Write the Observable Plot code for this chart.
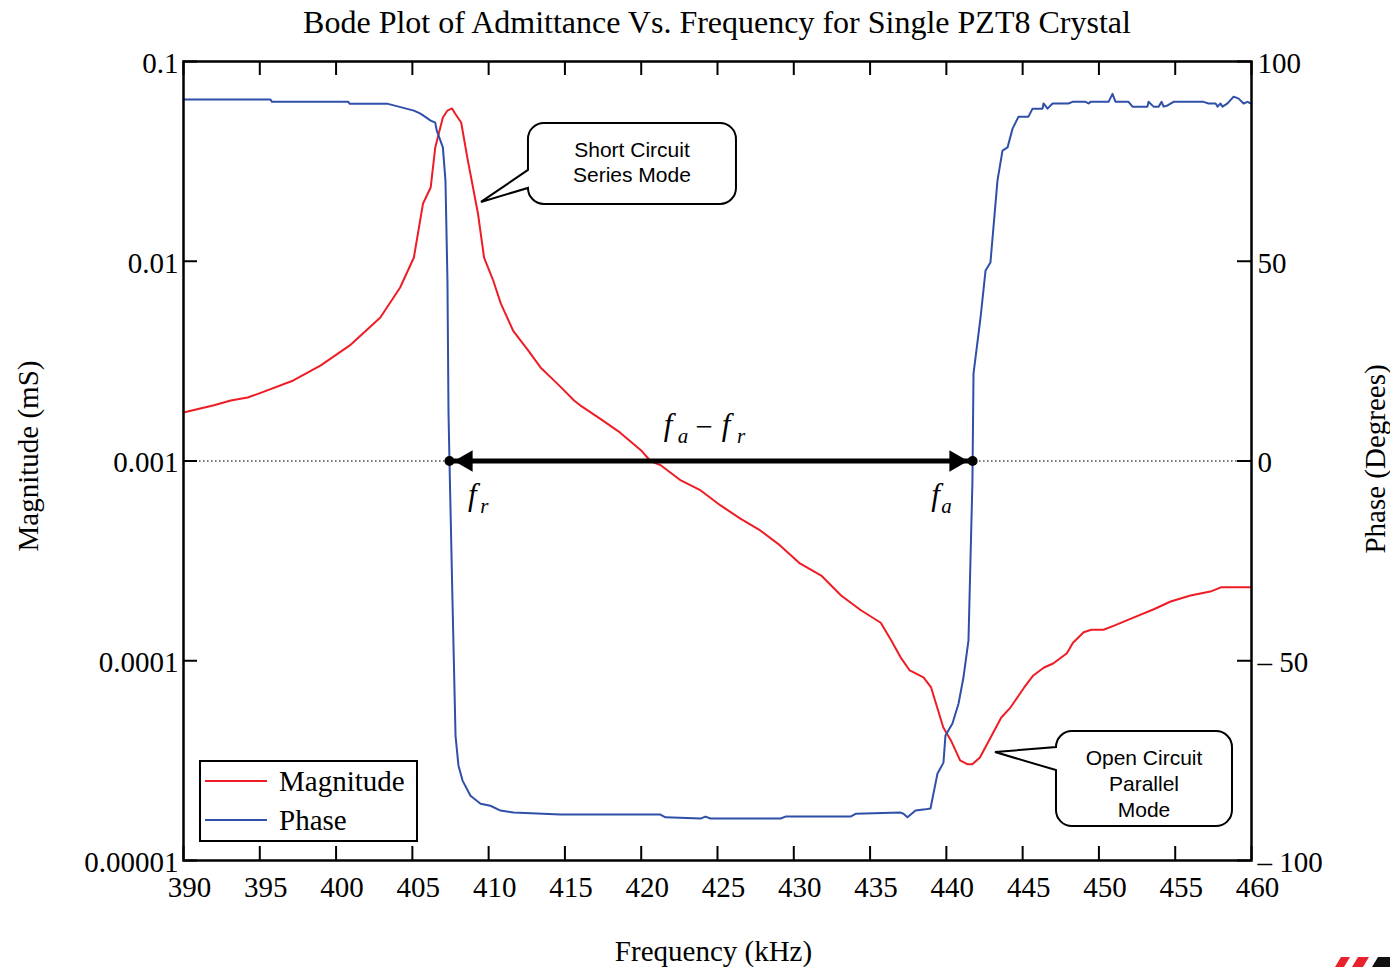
<!DOCTYPE html>
<html>
<head>
<meta charset="utf-8">
<script src="https://cdn.jsdelivr.net/npm/d3@7"></script>
<script src="https://cdn.jsdelivr.net/npm/@observablehq/plot@0.6"></script>
<style>
  html, body { margin: 0; padding: 0; background: #fff; overflow: hidden; }
  #page { position: relative; width: 1390px; height: 967px; }
  #title {
    margin-left: 183px; width: 1068px; height: 44px; line-height: 44px;
    text-align: center; font-family: "Liberation Serif", "Times New Roman", serif;
    font-size: 32px; color: #000; white-space: nowrap;
  }
  #logo { position: absolute; left: 0; top: 0; pointer-events: none; }
</style>
</head>
<body>
<div id="page">
  <div id="title">Bode Plot of Admittance Vs. Frequency for Single PZT8 Crystal</div>
  <div id="chart"></div>
  <svg id="logo" width="1390" height="967">
    <polygon points="1335,967 1341,957 1350,957 1344,967" fill="#e8212b"/>
    <polygon points="1352,967 1358,957 1369,957 1363,967" fill="#e8212b"/>
    <polygon points="1372,967 1378,957 1390,957 1390,967" fill="#111"/>
  </svg>
</div>
<script>
// Admittance magnitude (mS) of a single PZT8 crystal vs. frequency (kHz)
const magFreq = [390.0, 391.1, 392.0, 393.1, 394.2, 395.1, 397.2, 399.0, 400.9, 402.9,
  404.2, 405.1, 405.7, 406.2, 406.5, 407.0, 407.3, 407.6, 407.8, 408.2,
  408.6, 409.3, 409.7, 410.3, 410.8, 411.6, 412.6, 413.4, 414.5, 415.6,
  416.0, 417.3, 418.6, 420.0, 420.6, 421.3, 422.6, 423.9, 425.2, 426.5,
  427.8, 429.1, 430.4, 431.8, 433.1, 434.4, 435.7, 436.4, 437.0, 437.6,
  438.5, 439.0, 439.8, 440.3, 440.9, 441.4, 441.7, 442.2, 442.9, 443.6,
  444.2, 445.1, 445.7, 446.4, 447.0, 447.9, 448.3, 449.0, 449.5, 450.3,
  451.0, 452.3, 453.6, 454.7, 456.0, 457.3, 458.0, 460.0];
const magValue = [0.00175, 0.00183, 0.00190, 0.00201, 0.00208, 0.00220, 0.00253, 0.00301, 0.00379, 0.00523,
  0.00739, 0.01044, 0.01947, 0.02339, 0.0371, 0.0524, 0.0568, 0.0582, 0.0549, 0.0495,
  0.0331, 0.01734, 0.01044, 0.00801, 0.00614, 0.00450, 0.00357, 0.00294, 0.00244, 0.00201,
  0.00190, 0.00163, 0.00139, 0.00113, 0.00100, 0.00095, 0.000799, 0.000712, 0.000599, 0.000515,
  0.000449, 0.000378, 0.000307, 0.000267, 0.000212, 0.000179, 0.000155, 0.000126, 0.000104, 0.0000894,
  0.0000825, 0.0000735, 0.0000463, 0.0000399, 0.0000317, 0.0000303, 0.0000303, 0.0000328, 0.0000413, 0.0000520,
  0.0000583, 0.0000735, 0.0000844, 0.0000925, 0.0000969, 0.000109, 0.000123, 0.000139, 0.000143, 0.000143,
  0.000150, 0.000165, 0.000181, 0.000198, 0.000212, 0.000222, 0.000233, 0.000233];

// Admittance phase (degrees) vs. frequency (kHz)
const phaseFreq = [390.0, 395.7, 395.8, 400.8, 400.9, 403.4, 404.1, 404.6, 405.1, 405.5,
  405.9, 406.2, 406.5, 406.6, 407.0, 407.17, 407.30, 407.37, 407.43, 407.63,
  407.83, 408.02, 408.29, 408.81, 409.47, 410.12, 410.78, 411.63, 414.71, 421.26,
  421.59, 423.89, 424.21, 424.54, 429.13, 429.46, 433.72, 434.05, 437.00, 437.19,
  437.45, 437.98, 438.63, 438.96, 439.42, 439.81, 439.94, 440.40, 440.80, 441.12,
  441.45, 441.58, 441.71, 441.78, 442.24, 442.57, 442.89, 443.35, 443.68, 444.01,
  444.34, 444.73, 445.38, 445.65, 446.30, 446.37, 446.63, 446.96, 448.00, 448.27,
  449.12, 449.32, 449.45, 450.63, 450.89, 451.09, 451.94, 452.20, 453.18, 453.25,
  453.58, 453.91, 454.11, 454.24, 454.50, 454.89, 456.86, 457.19, 457.65, 457.78,
  457.97, 458.10, 458.43, 458.83, 459.16, 459.48, 459.74, 459.94];
const phaseValue = [90.5, 90.5, 89.9, 89.9, 89.4, 89.4, 88.7, 88.2, 87.7, 87.0,
  86.0, 85.2, 84.7, 82.7, 78.5, 70.2, 45.2, 11.9, 0.6, -34.9,
  -68.8, -76.2, -80.0, -83.8, -85.8, -86.3, -87.5, -88.0, -88.5, -88.5,
  -89.2, -89.5, -89.0, -89.5, -89.5, -89.0, -89.0, -88.3, -88.0, -88.3,
  -89.2, -87.5, -87.2, -87.0, -78.2, -75.5, -68.7, -65.7, -60.7, -54.2,
  -44.9, -24.9, -4.9, 21.9, 35.9, 47.7, 49.7, 70.2, 77.7, 78.5,
  83.2, 86.2, 86.2, 88.2, 88.2, 89.5, 88.2, 89.5, 89.5, 89.9,
  89.9, 89.5, 89.9, 89.9, 91.9, 89.9, 89.9, 88.7, 88.7, 89.9,
  88.7, 88.7, 89.9, 88.7, 89.0, 89.9, 89.9, 89.5, 89.5, 88.7,
  89.5, 88.7, 89.5, 91.2, 90.7, 89.5, 89.9, 89.5];

// Axis ticks
const freqTicks = [390, 395, 400, 405, 410, 415, 420, 425, 430, 435, 440, 445, 450, 455, 460];
const magTicks = [0.00001, 0.0001, 0.001, 0.01, 0.1];
const magTickLabels = ["0.00001", "0.0001", "0.001", "0.01", "0.1"];
const phaseTicks = [-100, -50, 0, 50, 100];
const phaseTickLabels = ["\u2013 100", "\u2013 50", "0", "50", "100"];

// Resonance (series) and anti-resonance (parallel) frequencies, kHz: phase zero crossings
const fr = 407.43;
const fa = 441.72;

// Callout anchors (frequency, magnitude) and their text
const calloutFreq = [409.53, 443.22];
const calloutMag = [0.0197, 0.0000347];
const calloutLines = [["Short Circuit", "Series Mode"], ["Open Circuit", "Parallel", "Mode"]];

// Legend
const seriesNames = ["Magnitude", "Phase"];
const seriesColors = ["#ee1c25", "#2f4fa9"];

// Phase shares the log magnitude scale: -100°..100° maps onto 1e-5..1e-1
const phaseToMag = p => Math.pow(10, -3 + p / 50);
const zeroLevel = phaseToMag(0);

const magnitude = magFreq.map((f, i) => ({freq: f, value: magValue[i]}));
const phase = phaseFreq.map((f, i) => ({freq: f, value: phaseToMag(phaseValue[i])}));
const magLabel = new Map(magTicks.map((t, i) => [t, magTickLabels[i]]));
const phaseTickPos = phaseTicks.map(phaseToMag);
const phaseLabel = new Map(phaseTickPos.map((t, i) => [t, phaseTickLabels[i]]));

const serif = "'Liberation Serif', 'Times New Roman', Times, serif";
const sans = "'Liberation Sans', Arial, Helvetica, sans-serif";

const W = 1390, H = 923;
const M = {top: 17, right: 139, bottom: 107, left: 183};
const frameW = W - M.left - M.right;
const frameH = H - M.top - M.bottom;

// Callout box geometry relative to the pointer tip (pixels)
const calloutBoxes = [
  {l: 47, t: -79, r: 255, b: 2, y1: -32, y2: -14, rad: 16, cx: 151, ly: [-52, -27]},
  {l: 61, t: -21, r: 237, b: 74, y1: -5, y2: 18, rad: 16, cx: 149, ly: [6, 32, 58]}
];

function calloutPath(tx, ty, L, T, R, B, y1, y2, r) {
  return `M${L + r},${T}H${R - r}A${r},${r} 0 0 1 ${R},${T + r}V${B - r}` +
    `A${r},${r} 0 0 1 ${R - r},${B}H${L + r}A${r},${r} 0 0 1 ${L},${B - r}` +
    `V${y2}L${tx},${ty}L${L},${y1}V${T + r}A${r},${r} 0 0 1 ${L + r},${T}Z`;
}

// Custom mark: speech-bubble callouts and the boxed legend
function annotations(index, scales, values, dims) {
  const g = d3.create("svg:g").attr("text-anchor", "start");
  calloutFreq.forEach((f, i) => {
    const tx = scales.x(f), ty = scales.y(calloutMag[i]);
    const b = calloutBoxes[i];
    g.append("path")
      .attr("d", calloutPath(tx, ty, tx + b.l, ty + b.t, tx + b.r, ty + b.b, ty + b.y1, ty + b.y2, b.rad))
      .attr("fill", "#fff").attr("stroke", "#000").attr("stroke-width", 2)
      .attr("stroke-linejoin", "miter");
    calloutLines[i].forEach((line, j) => {
      g.append("text")
        .attr("x", tx + b.cx).attr("y", ty + b.ly[j]).attr("dy", "0.35em")
        .attr("text-anchor", "middle")
        .attr("font-family", sans).attr("font-size", 21).attr("fill", "#000")
        .text(line);
    });
  });
  const left = dims.marginLeft + 17;
  const top = dims.height - dims.marginBottom - 99;
  g.append("rect")
    .attr("x", left).attr("y", top).attr("width", 217).attr("height", 80)
    .attr("fill", "#fff").attr("stroke", "#000").attr("stroke-width", 2);
  seriesNames.forEach((name, i) => {
    const y = top + 20 + i * 39;
    g.append("line")
      .attr("x1", left + 5).attr("x2", left + 67).attr("y1", y).attr("y2", y)
      .attr("stroke", seriesColors[i]).attr("stroke-width", 2);
    g.append("text")
      .attr("x", left + 79).attr("y", y).attr("dy", "0.35em")
      .attr("text-anchor", "start")
      .attr("font-family", serif).attr("font-size", 29).attr("fill", "#000")
      .text(name);
  });
  return g.node();
}

const italic = {fontFamily: serif, fontStyle: "italic", fill: "#000"};

const chart = Plot.plot({
  width: W, height: H,
  marginTop: M.top, marginRight: M.right, marginBottom: M.bottom, marginLeft: M.left,
  style: {fontFamily: serif, fontSize: "29px", background: "transparent", color: "#000", overflow: "visible"},
  x: {domain: [390, 460]},
  y: {type: "log", domain: [0.00001, 0.1]},
  marks: [
    // phase = 0 reference
    Plot.ruleY([zeroLevel], {stroke: "#000", strokeWidth: 1.2, strokeDasharray: "1.6,2.4"}),
    // data
    Plot.line(magnitude, {x: "freq", y: "value", stroke: seriesColors[0], strokeWidth: 2}),
    Plot.line(phase, {x: "freq", y: "value", stroke: seriesColors[1], strokeWidth: 2}),
    // fa - fr span arrow
    Plot.link([0], {x1: () => fr, x2: () => fa, y1: () => zeroLevel, y2: () => zeroLevel, stroke: "#000", strokeWidth: 5}),
    Plot.dot([fr, fa], {x: d => d, y: () => zeroLevel, r: 5, fill: "#000"}),
    Plot.dot([fr], {x: d => d, y: () => zeroLevel, symbol: "triangle", rotate: -90, r: 8, dx: 17, fill: "#000"}),
    Plot.dot([fa], {x: d => d, y: () => zeroLevel, symbol: "triangle", rotate: 90, r: 8, dx: -17, fill: "#000"}),
    // f_r, f_a and f_a − f_r labels
    Plot.text([fr], {x: d => d, y: () => zeroLevel, text: () => "f", dx: 23, dy: 34, fontSize: 31, ...italic}),
    Plot.text([fr], {x: d => d, y: () => zeroLevel, text: () => "r", dx: 35, dy: 45, fontSize: 21, ...italic}),
    Plot.text([fa], {x: d => d, y: () => zeroLevel, text: () => "f", dx: -37, dy: 34, fontSize: 31, ...italic}),
    Plot.text([fa], {x: d => d, y: () => zeroLevel, text: () => "a", dx: -26, dy: 45, fontSize: 21, ...italic}),
    Plot.text([(fr + fa) / 2], {x: d => d, y: () => zeroLevel, text: () => "f", dx: -43, dy: -36, fontSize: 31, ...italic}),
    Plot.text([(fr + fa) / 2], {x: d => d, y: () => zeroLevel, text: () => "a", dx: -28, dy: -25, fontSize: 21, ...italic}),
    Plot.text([(fr + fa) / 2], {x: d => d, y: () => zeroLevel, text: () => "\u2212", dx: -7, dy: -34, fontSize: 31, fontFamily: serif, fill: "#000"}),
    Plot.text([(fr + fa) / 2], {x: d => d, y: () => zeroLevel, text: () => "f", dx: 15, dy: -36, fontSize: 31, ...italic}),
    Plot.text([(fr + fa) / 2], {x: d => d, y: () => zeroLevel, text: () => "r", dx: 30, dy: -25, fontSize: 21, ...italic}),
    // frame and inward ticks on all four sides
    Plot.frame({stroke: "#000", strokeWidth: 2.5}),
    Plot.tickX(freqTicks, {x: d => d, insetTop: frameH - 14, stroke: "#000", strokeWidth: 2}),
    Plot.tickX(freqTicks, {x: d => d, insetBottom: frameH - 14, stroke: "#000", strokeWidth: 2}),
    Plot.tickY(magTicks, {y: d => d, insetRight: frameW - 14, stroke: "#000", strokeWidth: 2}),
    Plot.tickY(phaseTickPos, {y: d => d, insetLeft: frameW - 14, stroke: "#000", strokeWidth: 2}),
    // tick labels
    Plot.axisX(freqTicks, {anchor: "bottom", tickSize: 0, tickPadding: 16, dx: 6, label: null, fontSize: 29, tickFormat: d => String(d)}),
    Plot.axisY(magTicks, {anchor: "left", tickSize: 0, tickPadding: 5, dy: 2, label: null, fontSize: 29, tickFormat: d => magLabel.get(d)}),
    Plot.axisY(phaseTickPos, {anchor: "right", tickSize: 0, tickPadding: 6, dy: 2, label: null, fontSize: 29, tickFormat: d => phaseLabel.get(d)}),
    // axis titles
    Plot.text(["Frequency (kHz)"], {text: d => d, frameAnchor: "bottom", textAnchor: "middle", dx: -4, dy: 100, fontSize: 29, fill: "#000"}),
    Plot.text(["Magnitude (mS)"], {text: d => d, frameAnchor: "left", textAnchor: "middle", dx: -155, dy: -5, rotate: -90, fontSize: 29, fill: "#000"}),
    Plot.text(["Phase (Degrees)"], {text: d => d, frameAnchor: "right", textAnchor: "middle", dx: 124, dy: -2, rotate: -90, fontSize: 29, fill: "#000"}),
    annotations
  ]
});

document.getElementById("chart").appendChild(chart);
</script>
</body>
</html>
